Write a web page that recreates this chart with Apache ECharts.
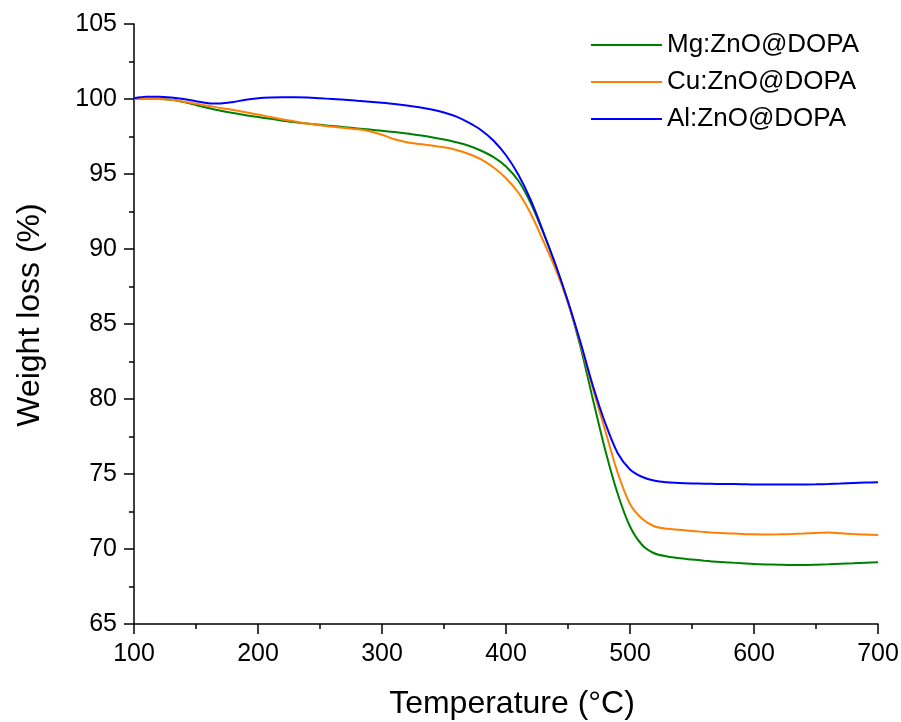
<!DOCTYPE html>
<html>
<head>
<meta charset="utf-8">
<script src="https://cdn.jsdelivr.net/npm/echarts@6/dist/echarts.min.js"></script>
<style>html,body{margin:0;padding:0;background:#fff;}#c{width:901px;height:722px;}</style>
</head>
<body>
<div id="c"></div>
<script>
const temps = [100,110,120,130,140,150,160,170,180,190,200,210,220,230,240,250,260,270,280,290,300,310,320,330,340,350,360,370,380,390,400,410,420,430,440,450,460,470,480,490,500,510,520,530,540,550,560,570,580,590,600,610,620,630,640,650,660,670,680,690,700];
const mgZnO = [100.0,100.0,100.0,99.95,99.8,99.6,99.4,99.22,99.06,98.92,98.8,98.68,98.55,98.45,98.36,98.28,98.2,98.12,98.04,97.96,97.88,97.8,97.7,97.58,97.45,97.3,97.12,96.88,96.55,96.12,95.5,94.55,93.05,91.1,88.9,86.45,83.5,80.0,76.6,73.7,71.5,70.25,69.7,69.5,69.38,69.3,69.22,69.15,69.1,69.05,69.0,68.97,68.95,68.93,68.93,68.95,68.98,69.02,69.05,69.09,69.12];
const cuZnO = [100.0,100.0,100.0,99.95,99.82,99.68,99.55,99.4,99.27,99.12,98.97,98.8,98.64,98.5,98.36,98.25,98.15,98.07,97.98,97.85,97.62,97.32,97.12,97.0,96.9,96.78,96.6,96.33,95.97,95.43,94.72,93.75,92.35,90.55,88.65,86.4,83.7,80.7,77.9,75.1,73.0,72.0,71.5,71.35,71.28,71.2,71.14,71.08,71.04,71.0,70.98,70.97,70.98,71.0,71.03,71.07,71.1,71.05,71.0,70.96,70.94];
const alZnO = [100.05,100.15,100.15,100.1,100.0,99.85,99.72,99.7,99.8,99.95,100.05,100.1,100.12,100.12,100.1,100.05,100.0,99.95,99.88,99.82,99.75,99.67,99.57,99.45,99.3,99.1,98.82,98.42,97.92,97.22,96.25,94.95,93.25,91.15,88.95,86.5,83.8,80.9,78.4,76.4,75.3,74.8,74.55,74.45,74.4,74.37,74.35,74.34,74.33,74.32,74.3,74.3,74.3,74.3,74.3,74.31,74.33,74.36,74.4,74.43,74.45];
const seriesNames = ['Mg:ZnO@DOPA','Cu:ZnO@DOPA','Al:ZnO@DOPA'];
const seriesColors = ['#008000','#ff8000','#0000ff'];
const xTicks = {min:100,max:700,interval:100};
const yTicks = {min:65,max:105,interval:5};

const pair = arr => temps.map((t,i)=>[t,arr[i]]);
const allData = [mgZnO, cuZnO, alZnO];
const font = '"Liberation Sans", Arial, sans-serif';
const chart = echarts.init(document.getElementById('c'), null, {renderer:'canvas'});
chart.setOption({
  animation:false,
  backgroundColor:'#fff',
  grid:{left:134,right:23,top:24,bottom:98,containLabel:false,outerBoundsMode:'none'},
  legend:{
    orient:'vertical', left:586, top:27,
    itemWidth:71, itemHeight:2, itemGap:11,
    icon:'rect',
    textStyle:{fontFamily:font,fontSize:26,color:'#000',lineHeight:26},
    data:seriesNames
  },
  xAxis:{
    type:'value', min:xTicks.min, max:xTicks.max, interval:xTicks.interval,
    name:'Temperature (°C)', nameLocation:'middle', nameGap:64,
    nameTextStyle:{fontFamily:font,fontSize:32,color:'#000',padding:[0,0,0,12]},
    axisLine:{show:true,onZero:false,lineStyle:{color:'#000',width:1.5}},
    axisTick:{show:true,inside:false,length:10,lineStyle:{color:'#000',width:1.5}},
    minorTick:{show:true,splitNumber:2,length:5,lineStyle:{color:'#000',width:1.5}},
    axisLabel:{fontFamily:font,fontSize:25,color:'#000',margin:18},
    splitLine:{show:false}
  },
  yAxis:{
    type:'value', min:yTicks.min, max:yTicks.max, interval:yTicks.interval,
    name:'Weight loss (%)', nameLocation:'middle', nameGap:88,
    nameTextStyle:{fontFamily:font,fontSize:32,color:'#000',padding:[0,0,0,18]},
    axisLine:{show:true,onZero:false,lineStyle:{color:'#000',width:1.5}},
    axisTick:{show:true,inside:false,length:10,lineStyle:{color:'#000',width:1.5}},
    minorTick:{show:true,splitNumber:2,length:5,lineStyle:{color:'#000',width:1.5}},
    axisLabel:{fontFamily:font,fontSize:25,color:'#000',margin:17},
    splitLine:{show:false}
  },
  series: seriesNames.map((n,i)=>({
    name:n, type:'line', data:pair(allData[i]), showSymbol:false, symbol:'none',
    smooth:0.3, color:seriesColors[i],
    lineStyle:{color:seriesColors[i],width:2}
  }))
});
</script>
</body>
</html>
